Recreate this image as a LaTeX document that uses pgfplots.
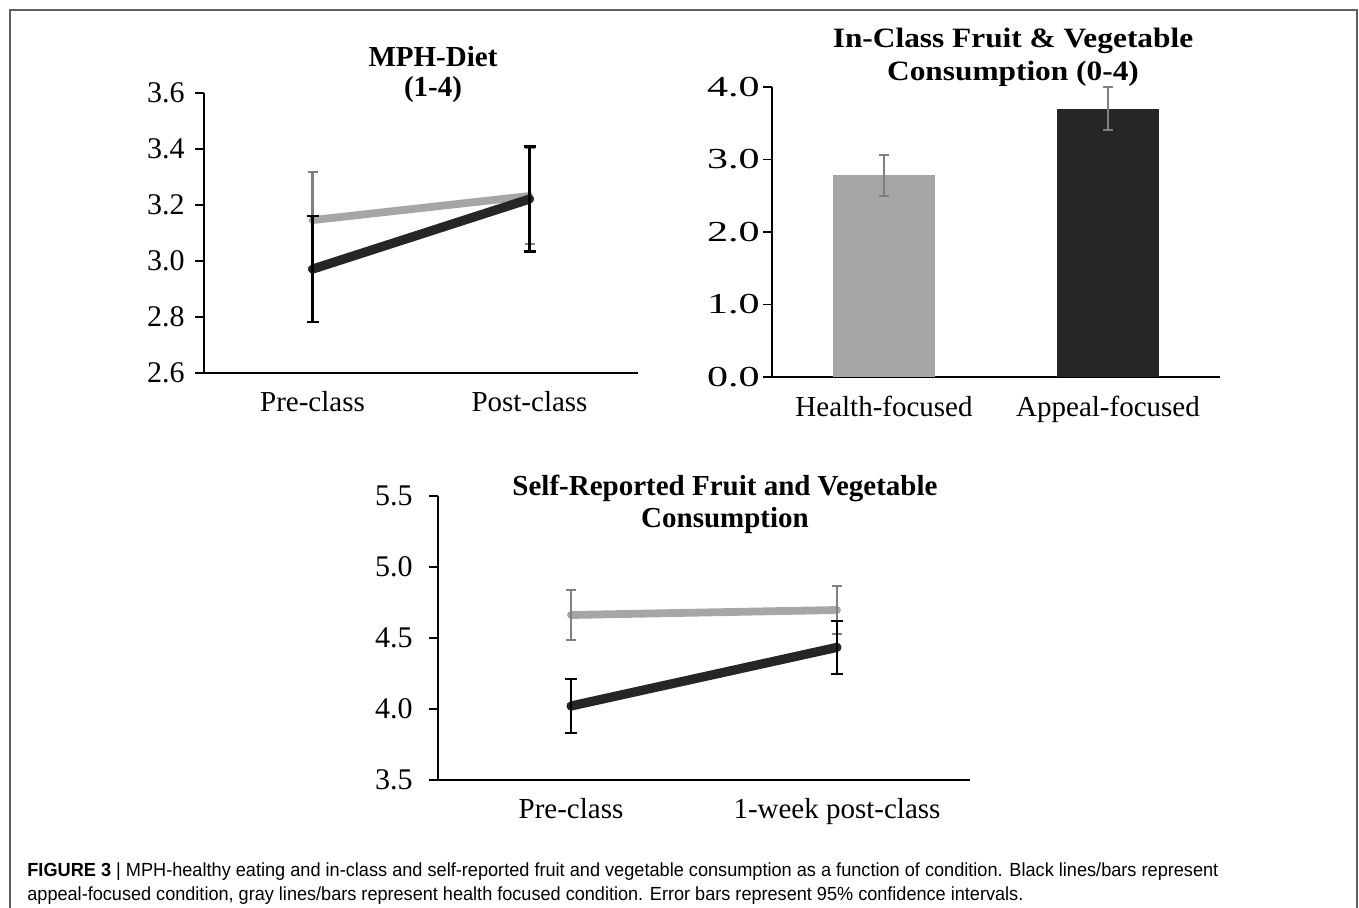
\documentclass[border=0pt]{standalone}
\usepackage{pgfplots}
\pgfplotsset{compat=1.18}
\usepackage{fontspec}
\usepackage{graphicx}
\setmainfont{Liberation Serif}
\newfontfamily\wideserif[FakeStretch=1.45]{Liberation Serif}
\newfontfamily\titlewide[FakeStretch=1.12]{Liberation Serif}
\newfontfamily\capfont{Liberation Sans}
\definecolor{lgray}{HTML}{A6A6A6}
\definecolor{mgray}{HTML}{7F7F7F}
\definecolor{dk}{HTML}{262626}
\definecolor{framec}{HTML}{5E5E5E}

\pgfplotsset{
  base/.style={
    scale only axis,
    axis lines*=left,
    axis line style={black, line width=0.9pt},
    tick align=outside,
    major tick length=4.5pt,
    ytick style={black, line width=0.9pt},
    major x tick style={draw=none},
    xmin=-0.5, xmax=1.5, xtick={0,1},
    /pgf/number format/fixed,
    /pgf/number format/fixed zerofill,
    /pgf/number format/precision=1,
    /pgf/number format/assume math mode=true,
    yticklabel style={anchor=east, inner sep=0pt, font=\fontsize{15}{18}\selectfont},
    xticklabel style={anchor=base, inner sep=0pt, yshift=-15pt, font=\fontsize{14.5}{17}\selectfont},
    title style={align=center, anchor=center, font=\bfseries\fontsize{14.5}{15.5}\selectfont},
    clip=false,
  },
  grayline/.style={lgray, line width=3.9pt, line cap=round, mark=none,
    error bars/.cd, y dir=both, y explicit,
    error bar style={mgray, line width=1.1pt, line cap=butt},
    error mark options={rotate=90, mgray, line width=1.1pt, mark size=2.5pt}},
  blackline/.style={dk, line width=4.6pt, line cap=round, mark=none,
    error bars/.cd, y dir=both, y explicit,
    error bar style={black, line width=1.3pt, line cap=butt},
    error mark options={rotate=90, black, line width=1.3pt, mark size=3pt}},
}

\begin{document}
\begin{tikzpicture}
\path[use as bounding box] (0pt,0pt) rectangle (679.5pt,454pt);
\draw[framec, line width=0.8pt] (5pt,0pt) -- (5pt,449pt) -- (678.5pt,449pt) -- (678.5pt,0pt);

% Panel 1: MPH-Diet
\begin{axis}[base,
  at={(102pt,267.5pt)}, anchor=south west,
  width=217pt, height=140pt,
  ymin=2.6, ymax=3.6, ytick={2.6,2.8,3.0,3.2,3.4,3.6},
  yticklabel style={xshift=-5pt},
  xticklabels={Pre-class,Post-class},
  title={MPH-Diet\\(1-4)},
  title style={at={(0.5,1)}, xshift=6pt, yshift=3pt, font=\bfseries\fontsize{14.5}{15}\selectfont},
]
\addplot[grayline] coordinates {(0,3.146) +- (0,0.172) (1,3.232) +- (0,0.172)};
\addplot[blackline] coordinates {(0,2.971) +- (0,0.189) (1,3.221) +- (0,0.188)};
\end{axis}

% Panel 2: In-class bars
\begin{axis}[base,
  at={(386pt,265.5pt)}, anchor=south west,
  width=224pt, height=145pt,
  axis line style={black, line width=1.1pt},
  ymin=0, ymax=4, ytick={0,1,2,3,4},
  yticklabel style={xshift=-1.5pt, font=\wideserif\fontsize{14.5}{17}\selectfont},
  xticklabels={Health-focused,Appeal-focused},
  xticklabel style={yshift=-0.5pt},
  title={\titlewide In-Class Fruit \& Vegetable\\\titlewide Consumption (0-4)},
  title style={at={(0.5,1)}, xshift=8.5pt, yshift=9pt, font=\bfseries\fontsize{14}{16.5}\selectfont},
]
\addplot[ybar, bar width=0.456, bar shift=0pt, fill=lgray, draw=none,
  error bars/.cd, y dir=both, y explicit,
  error bar style={mgray, line width=1pt},
  error mark options={rotate=90, mgray, line width=1pt, mark size=2.5pt}]
  coordinates {(0,2.78) +- (0,0.28)};
\addplot[ybar, bar width=0.456, bar shift=0pt, fill=dk, draw=none,
  error bars/.cd, y dir=both, y explicit,
  error bar style={mgray, line width=1pt},
  error mark options={rotate=90, mgray, line width=1pt, mark size=2.5pt}]
  coordinates {(1,3.70) +- (0,0.295)};
\end{axis}

% Panel 3: Self-reported
\begin{axis}[base,
  at={(219pt,64pt)}, anchor=south west,
  width=266pt, height=142pt,
  ymin=3.5, ymax=5.5, ytick={3.5,4.0,4.5,5.0,5.5},
  yticklabel style={xshift=-8pt},
  xticklabels={Pre-class,1-week post-class},
  title={Self-Reported Fruit and Vegetable\\Consumption},
  title style={at={(0.5,1)}, xshift=10.5pt, yshift=-10pt, font=\bfseries\fontsize{14.5}{16}\selectfont},
]
\addplot[grayline] coordinates {(0,4.662) +- (0,0.176) (1,4.697) +- (0,0.17)};
\addplot[blackline] coordinates {(0,4.021) +- (0,0.19) (1,4.434) +- (0,0.187)};
\end{axis}

% Caption
\node[anchor=base west, inner sep=0pt] at (13.5pt,15.5pt)
  {\resizebox{595.5pt}{\height}{\capfont\fontsize{9.5}{11}\selectfont\textbf{FIGURE 3} | MPH-healthy eating and in-class and self-reported fruit and vegetable consumption as a function of condition. Black lines/bars represent}};
\node[anchor=base west, inner sep=0pt] at (13.5pt,3.5pt)
  {\resizebox{498pt}{\height}{\capfont\fontsize{9.5}{11}\selectfont appeal-focused condition, gray lines/bars represent health focused condition. Error bars represent 95\% confidence intervals.}};
\end{tikzpicture}
\end{document}
